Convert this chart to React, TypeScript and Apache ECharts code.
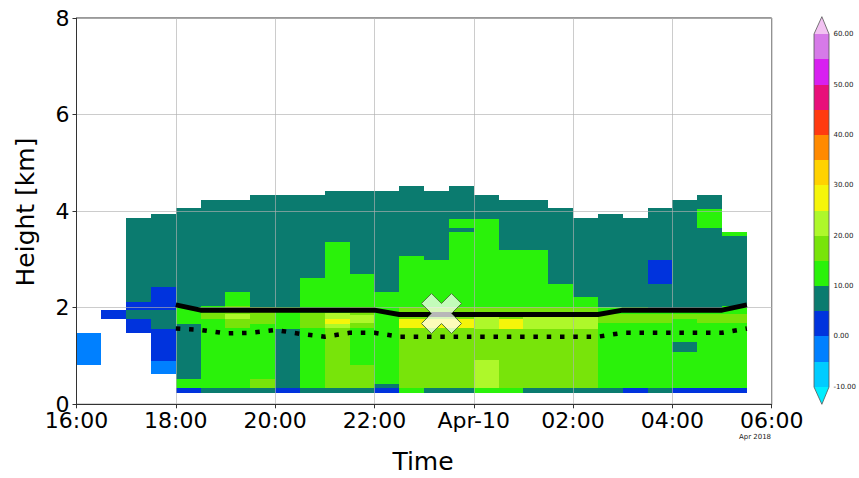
import React, { useEffect, useRef } from "react";
import * as echarts from "echarts";

// colour scale (dBZ)
const levels = [-10, -5, 0, 5, 10, 15, 20, 25, 30, 35, 40, 45, 50, 55, 60];
const levelColors = [
  "#00CCFF", "#0080FF", "#0033DD", "#0B7B6F", "#2AF20A", "#78E40A", "#AEF82A",
  "#F5F50A", "#FFD200", "#FF8A00", "#FF3A10", "#E8107A", "#D820F0", "#D67AE8",
];
const underColor = "#00EEFF";
const overColor = "#F2C2F2";

// time axis (hours since 00:00 on 9 Apr 2018)
const timeStart = 16;
const timeEnd = 30;
const binHours = 0.5;

// cells: [column index (30-min bins from 16:00), bottom km, top km, dBZ]
const cells: number[][] = [
  [0, 0.81, 1.47, -2],
  [1, 1.76, 1.95, 3],
  [2, 1.47, 1.76, 3], [2, 1.76, 1.95, 8], [2, 1.95, 2.12, 3], [2, 2.12, 3.85, 8],
  [3, 0.63, 0.9, -2], [3, 0.9, 1.56, 3], [3, 1.56, 1.95, 8], [3, 1.95, 2.42, 3], [3, 2.42, 3.95, 8],
  [4, 0.24, 0.33, 3], [4, 0.33, 0.52, 13], [4, 0.52, 1.66, 8], [4, 1.66, 2.02, 13], [4, 2.02, 4.06, 8],
  [5, 0.24, 0.33, 8], [5, 0.33, 1.77, 13], [5, 1.77, 1.9, 18], [5, 1.9, 2.03, 13], [5, 2.03, 4.24, 8],
  [6, 0.24, 0.33, 8], [6, 0.33, 1.57, 13], [6, 1.57, 1.77, 18], [6, 1.77, 1.88, 23], [6, 1.88, 2.03, 18], [6, 2.03, 2.33, 13], [6, 2.33, 4.24, 8],
  [7, 0.24, 0.33, 8], [7, 0.33, 0.52, 18], [7, 0.52, 1.66, 13], [7, 1.66, 2.01, 18], [7, 2.01, 4.33, 8],
  [8, 0.24, 0.33, 3], [8, 0.33, 1.56, 8], [8, 1.56, 2.02, 13], [8, 2.02, 4.33, 8],
  [9, 0.24, 0.33, 8], [9, 0.33, 1.57, 13], [9, 1.57, 1.9, 18], [9, 1.9, 2.61, 13], [9, 2.61, 4.33, 8],
  [10, 0.24, 0.33, 8], [10, 0.33, 1.57, 18], [10, 1.57, 1.67, 23], [10, 1.67, 1.77, 28], [10, 1.77, 1.9, 23], [10, 1.9, 3.37, 13], [10, 3.37, 4.42, 8],
  [11, 0.24, 0.33, 8], [11, 0.33, 0.81, 18], [11, 0.81, 1.57, 13], [11, 1.57, 1.68, 18], [11, 1.68, 1.84, 23], [11, 1.84, 2.02, 18], [11, 2.02, 2.7, 13], [11, 2.7, 4.42, 8],
  [12, 0.24, 0.33, 3], [12, 0.33, 0.43, 8], [12, 0.43, 2.33, 13], [12, 2.33, 4.42, 8],
  [13, 0.24, 0.33, 13], [13, 0.33, 1.57, 18], [13, 1.57, 1.76, 28], [13, 1.76, 2.02, 18], [13, 2.02, 3.08, 13], [13, 3.08, 4.52, 8],
  [14, 0.24, 0.33, 8], [14, 0.33, 1.57, 18], [14, 1.57, 1.76, 28], [14, 1.76, 2.02, 18], [14, 2.02, 2.99, 13], [14, 2.99, 4.42, 8],
  [15, 0.24, 0.33, 8], [15, 0.33, 1.57, 18], [15, 1.57, 1.76, 28], [15, 1.76, 2.02, 18], [15, 2.02, 3.56, 13], [15, 3.56, 3.66, 8], [15, 3.66, 3.83, 13], [15, 3.83, 4.52, 8],
  [16, 0.24, 0.33, 13], [16, 0.33, 0.92, 23], [16, 0.92, 1.55, 18], [16, 1.55, 1.88, 23], [16, 1.88, 2.02, 18], [16, 2.02, 3.83, 13], [16, 3.83, 4.33, 8],
  [17, 0.24, 0.33, 13], [17, 0.33, 1.55, 18], [17, 1.55, 1.77, 28], [17, 1.77, 2.02, 18], [17, 2.02, 3.19, 13], [17, 3.19, 4.24, 8],
  [18, 0.24, 0.33, 8], [18, 0.33, 1.55, 18], [18, 1.55, 1.85, 23], [18, 1.85, 2.02, 18], [18, 2.02, 3.19, 13], [18, 3.19, 4.24, 8],
  [19, 0.24, 0.33, 8], [19, 0.33, 1.55, 18], [19, 1.55, 1.85, 23], [19, 1.85, 2.02, 18], [19, 2.02, 2.5, 13], [19, 2.5, 4.06, 8],
  [20, 0.24, 0.33, 8], [20, 0.33, 1.55, 18], [20, 1.55, 1.85, 23], [20, 1.85, 2.02, 18], [20, 2.02, 2.23, 13], [20, 2.23, 3.86, 8],
  [21, 0.24, 0.33, 8], [21, 0.33, 1.68, 13], [21, 1.68, 1.88, 18], [21, 1.88, 2.02, 13], [21, 2.02, 3.95, 8],
  [22, 0.24, 0.33, 3], [22, 0.33, 1.68, 13], [22, 1.68, 1.88, 18], [22, 1.88, 2.02, 13], [22, 2.02, 3.86, 8],
  [23, 0.24, 0.33, 8], [23, 0.33, 1.68, 13], [23, 1.68, 1.88, 18], [23, 1.88, 2.0, 13], [23, 2.0, 2.5, 8], [23, 2.5, 2.99, 3], [23, 2.99, 4.06, 8],
  [24, 0.24, 0.33, 3], [24, 0.33, 1.09, 13], [24, 1.09, 1.28, 8], [24, 1.28, 1.76, 13], [24, 1.76, 1.88, 18], [24, 1.88, 2.0, 13], [24, 2.0, 4.24, 8],
  [25, 0.24, 0.33, 3], [25, 0.33, 1.68, 13], [25, 1.68, 1.88, 18], [25, 1.88, 2.0, 13], [25, 2.0, 3.66, 8], [25, 3.66, 4.04, 13], [25, 4.04, 4.33, 8],
  [26, 0.24, 0.33, 3], [26, 0.33, 1.68, 13], [26, 1.68, 1.88, 18], [26, 1.88, 2.03, 13], [26, 2.03, 3.48, 8], [26, 3.48, 3.57, 13],
];

// lines (times in hours, heights in km)
const lineTimes = [18, 18.5, 19, 19.5, 20, 20.5, 21, 21.5, 22, 22.5, 23, 23.5, 24, 24.5, 25, 25.5, 26, 26.5, 27, 27.5, 28, 28.5, 29, 29.5];
const solidHeights = [2.06, 1.95, 1.95, 1.95, 1.95, 1.95, 1.95, 1.95, 1.95, 1.86, 1.86, 1.86, 1.86, 1.86, 1.86, 1.86, 1.86, 1.86, 1.95, 1.95, 1.95, 1.95, 1.95, 2.06];
const dottedHeights = [1.57, 1.54, 1.47, 1.48, 1.54, 1.46, 1.4, 1.48, 1.48, 1.4, 1.4, 1.4, 1.4, 1.4, 1.4, 1.4, 1.4, 1.4, 1.48, 1.48, 1.48, 1.48, 1.48, 1.57];

// marker
const markerPoint = [23.35, 1.88];

const FONT = "DejaVu Sans";
const X_PATH = "path://M0,10 L10,0 L20,10 L30,0 L40,10 L30,20 L40,30 L30,40 L20,30 L10,40 L0,30 L10,20 Z";

function colorFor(v: number): string {
  if (v < levels[0]) return underColor;
  if (v >= levels[levels.length - 1]) return overColor;
  const i = Math.floor((v - levels[0]) / (levels[1] - levels[0]));
  return levelColors[i];
}

function pad(n: number) {
  return n < 10 ? "0" + n : "" + n;
}

export default function App() {
  const ref = useRef<HTMLDivElement>(null);
  useEffect(() => {
    if (!ref.current) return;
    const chart = echarts.init(ref.current, undefined, { renderer: "svg" });

    const cellData = cells.map((c) => [
      timeStart + c[0] * binHours,
      timeStart + (c[0] + 1) * binHours,
      c[1],
      c[2],
      c[3],
    ]);
    const cbData = levelColors.map((_, i) => [levels[i], levels[i + 1], i]);
    const ext = 3.5;

    const option: any = {
      animation: false,
      backgroundColor: "#fff",
      grid: [
        {
          left: 76.5, top: 18, right: 87.3, bottom: 73.7,
          show: true, borderColor: "#333", borderWidth: 1, backgroundColor: "transparent",
        },
        { left: 814.3, top: 34.3, width: 18, height: 352.4, show: false },
      ],
      xAxis: [
        {
          type: "value", gridIndex: 0, min: timeStart, max: timeEnd, interval: 2,
          axisLine: { show: true, lineStyle: { color: "#333", width: 1 } },
          axisTick: { show: true, length: 4, lineStyle: { color: "#333" } },
          axisLabel: {
            show: true, fontFamily: FONT, fontSize: 22, color: "#000", margin: 5,
            showMinLabel: true, showMaxLabel: true,
            formatter: (v: number) => (v === 24 ? "Apr-10" : pad(v % 24) + ":00"),
          },
          splitLine: { show: true, lineStyle: { color: "rgba(176,176,176,0.65)", width: 1 } },
        },
        { type: "value", gridIndex: 1, min: 0, max: 1, show: false },
      ],
      yAxis: [
        {
          type: "value", gridIndex: 0, min: 0, max: 8, interval: 2,
          axisLine: { show: true, lineStyle: { color: "#333", width: 1 } },
          axisTick: { show: true, length: 4, lineStyle: { color: "#333" } },
          axisLabel: { fontFamily: FONT, fontSize: 22, color: "#000", margin: 7, showMinLabel: true, showMaxLabel: true },
          splitLine: { show: true, lineStyle: { color: "rgba(176,176,176,0.65)", width: 1 } },
        },
        {
          type: "value", gridIndex: 1, min: -10, max: 60, interval: 10, position: "right",
          axisLine: { show: false },
          axisTick: { show: true, length: 3, lineStyle: { color: "#333", width: 0.8 } },
          axisLabel: {
            fontFamily: FONT, fontSize: 7, color: "#222", margin: 4,
            formatter: (v: number) => v.toFixed(2),
          },
          splitLine: { show: false },
        },
      ],
      series: [
        {
          type: "custom",
          xAxisIndex: 0, yAxisIndex: 0,
          z: -1,
          data: cellData,
          encode: { x: [0, 1], y: [2, 3] },
          renderItem: (params: any, api: any) => {
            const p0 = api.coord([api.value(0), api.value(3)]);
            const p1 = api.coord([api.value(1), api.value(2)]);
            const x0 = Math.round(p0[0]), y0 = Math.round(p0[1]);
            const x1 = Math.round(p1[0]), y1 = Math.round(p1[1]);
            const col = colorFor(api.value(4));
            return {
              type: "rect",
              shape: { x: x0, y: y0, width: x1 - x0, height: y1 - y0 },
              style: { fill: col },
            };
          },
        },
        {
          type: "line", xAxisIndex: 0, yAxisIndex: 0, z: 3,
          data: lineTimes.map((t, i) => [t, solidHeights[i]]),
          showSymbol: false, symbol: "none",
          lineStyle: { color: "#000", width: 5 },
        },
        {
          type: "line", xAxisIndex: 0, yAxisIndex: 0, z: 3,
          data: lineTimes.map((t, i) => [t, dottedHeights[i]]),
          showSymbol: false, symbol: "none",
          lineStyle: { color: "#000", width: 4.5, type: [4.5, 8.8], cap: "butt" },
        },
        {
          type: "scatter", xAxisIndex: 0, yAxisIndex: 0, z: 4,
          data: [markerPoint],
          symbol: X_PATH, symbolSize: 40,
          itemStyle: { color: "rgba(255,255,255,0.72)", borderColor: "#4f7a3a", borderWidth: 1, opacity: 1 },
        },
        {
          type: "custom",
          xAxisIndex: 1, yAxisIndex: 1,
          data: cbData,
          encode: { y: [0, 1] },
          renderItem: (params: any, api: any) => {
            const lo = api.value(0), hi = api.value(1), idx = api.value(2);
            const p0 = api.coord([0, hi]);
            const p1 = api.coord([1, lo]);
            const x0 = Math.round(p0[0]), y0 = Math.round(p0[1]);
            const x1 = Math.round(p1[0]), y1 = Math.round(p1[1]);
            return {
              type: "rect",
              shape: { x: x0, y: y0, width: x1 - x0, height: y1 - y0 },
              style: { fill: levelColors[idx] },
            };
          },
        },
        {
          type: "custom",
          xAxisIndex: 1, yAxisIndex: 1,
          clip: false,
          data: [[levels[0], levels[levels.length - 1]]],
          encode: { y: [0, 1] },
          renderItem: (params: any, api: any) => {
            const lo = api.value(0), hi = api.value(1);
            const r = (p: number[]) => [Math.round(p[0]), Math.round(p[1])];
            const tl = r(api.coord([0, hi]));
            const tr = r(api.coord([1, hi]));
            const tt = api.coord([0.5, hi + ext]);
            const bl = r(api.coord([0, lo]));
            const br = r(api.coord([1, lo]));
            const bt = api.coord([0.5, lo - ext]);
            return {
              type: "group",
              children: [
                { type: "polygon", shape: { points: [tl, tr, tt] }, style: { fill: overColor } },
                { type: "polygon", shape: { points: [bl, br, bt] }, style: { fill: underColor } },
                {
                  type: "polygon",
                  shape: { points: [tl, tt, tr, br, bt, bl] },
                  style: { fill: "none", stroke: "#555", lineWidth: 0.8 },
                },
              ],
            };
          },
        },
      ],
      graphic: [
        {
          type: "text", x: 25, y: 212, rotation: Math.PI / 2,
          style: { text: "Height [km]", font: `25px '${FONT}'`, fill: "#000", align: "center", verticalAlign: "middle" },
        },
        {
          type: "text", x: 423, y: 461,
          style: { text: "Time", font: `25px '${FONT}'`, fill: "#000", align: "center", verticalAlign: "middle" },
        },
        {
          type: "text", x: 755, y: 437,
          style: { text: "Apr 2018", font: `7px '${FONT}'`, fill: "#222", align: "center", verticalAlign: "middle" },
        },
      ],
    };
    chart.setOption(option);
    return () => chart.dispose();
  }, []);
  return <div ref={ref} style={{ width: 859, height: 478, position: "absolute", left: 0, top: 0 }} />;
}
